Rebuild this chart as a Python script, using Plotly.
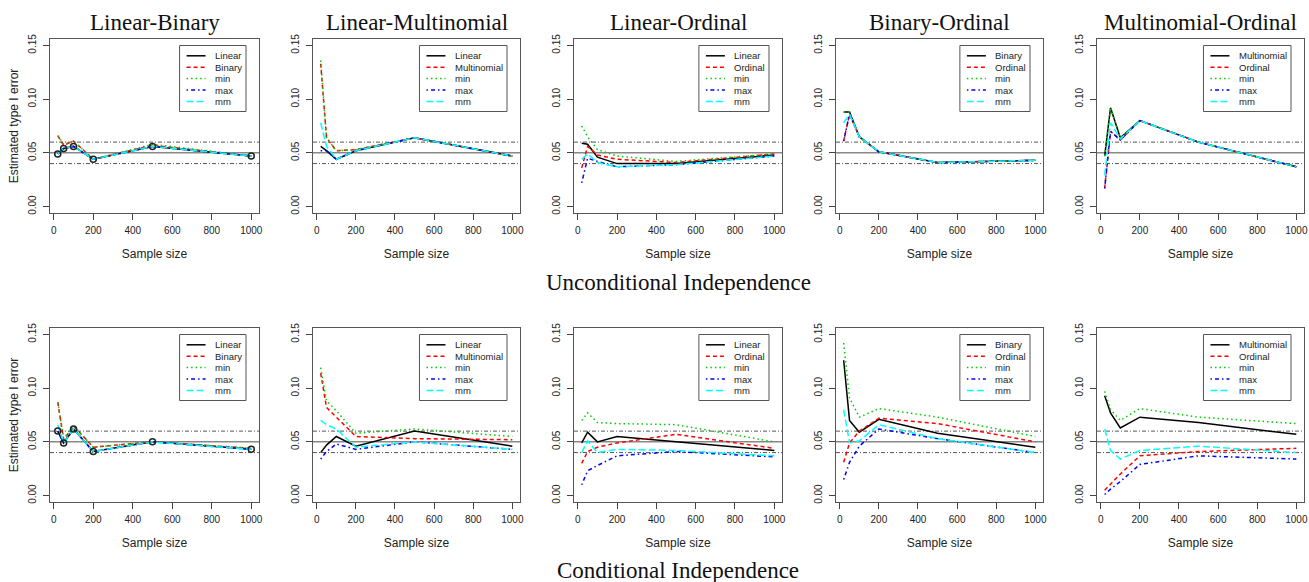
import plotly.graph_objects as go

# ---------------- data ----------------
sample_sizes = [20, 50, 100, 200, 500, 1000]
x_ticks = [0, 200, 400, 600, 800, 1000]
y_ticks = [0.00, 0.05, 0.10, 0.15]

panel_titles = ["Linear-Binary", "Linear-Multinomial", "Linear-Ordinal",
                "Binary-Ordinal", "Multinomial-Ordinal"]
first_names = ["Linear", "Linear", "Linear", "Binary", "Multinomial"]
second_names = ["Binary", "Multinomial", "Ordinal", "Ordinal", "Ordinal"]
row_labels = ["Unconditional Independence", "Conditional Independence"]

# Unconditional independence: [first, second, min, max, mm]
u_lin_bin = [[0.049, 0.054, 0.056, 0.044, 0.056, 0.047],
             [0.066, 0.057, 0.061, 0.044, 0.057, 0.047],
             [0.066, 0.058, 0.061, 0.044, 0.058, 0.047],
             [0.049, 0.054, 0.056, 0.044, 0.056, 0.047],
             [0.049, 0.054, 0.056, 0.044, 0.056, 0.047]]
u_lin_mul = [[0.056, 0.052, 0.044, 0.052, 0.064, 0.047],
             [0.133, 0.064, 0.052, 0.053, 0.064, 0.047],
             [0.136, 0.064, 0.052, 0.053, 0.064, 0.047],
             [0.052, 0.052, 0.044, 0.052, 0.064, 0.047],
             [0.078, 0.056, 0.044, 0.052, 0.064, 0.047]]
u_lin_ord = [[0.059, 0.058, 0.046, 0.040, 0.040, 0.048],
             [0.036, 0.056, 0.048, 0.044, 0.041, 0.049],
             [0.075, 0.065, 0.053, 0.047, 0.042, 0.049],
             [0.022, 0.045, 0.042, 0.037, 0.039, 0.047],
             [0.044, 0.049, 0.041, 0.037, 0.039, 0.047]]
u_bin_ord = [[0.088, 0.088, 0.065, 0.051, 0.041, 0.043],
             [0.061, 0.086, 0.065, 0.051, 0.041, 0.043],
             [0.088, 0.088, 0.065, 0.051, 0.041, 0.043],
             [0.061, 0.086, 0.065, 0.051, 0.041, 0.043],
             [0.078, 0.086, 0.065, 0.051, 0.041, 0.043]]
u_mul_ord = [[0.047, 0.092, 0.064, 0.080, 0.060, 0.037],
             [0.017, 0.070, 0.062, 0.080, 0.060, 0.037],
             [0.047, 0.092, 0.064, 0.080, 0.060, 0.037],
             [0.017, 0.070, 0.062, 0.080, 0.060, 0.037],
             [0.029, 0.078, 0.063, 0.080, 0.060, 0.037]]

# Conditional independence: [first, second, min, max, mm]
c_lin_bin = [[0.060, 0.049, 0.062, 0.041, 0.050, 0.043],
             [0.087, 0.052, 0.065, 0.045, 0.050, 0.044],
             [0.087, 0.053, 0.065, 0.045, 0.050, 0.044],
             [0.060, 0.049, 0.062, 0.041, 0.050, 0.043],
             [0.066, 0.049, 0.062, 0.041, 0.050, 0.043]]
c_lin_mul = [[0.040, 0.047, 0.055, 0.046, 0.060, 0.046],
             [0.114, 0.082, 0.073, 0.055, 0.053, 0.052],
             [0.119, 0.088, 0.079, 0.058, 0.062, 0.055],
             [0.034, 0.041, 0.048, 0.043, 0.050, 0.043],
             [0.070, 0.066, 0.062, 0.045, 0.050, 0.043]]
c_lin_ord = [[0.049, 0.059, 0.050, 0.055, 0.050, 0.042],
             [0.030, 0.041, 0.045, 0.049, 0.057, 0.044],
             [0.070, 0.077, 0.068, 0.067, 0.066, 0.050],
             [0.010, 0.023, 0.028, 0.037, 0.041, 0.036],
             [0.040, 0.051, 0.040, 0.043, 0.042, 0.037]]
c_bin_ord = [[0.126, 0.070, 0.059, 0.071, 0.058, 0.045],
             [0.031, 0.049, 0.060, 0.072, 0.067, 0.050],
             [0.142, 0.091, 0.073, 0.081, 0.073, 0.055],
             [0.015, 0.031, 0.046, 0.062, 0.053, 0.040],
             [0.080, 0.049, 0.051, 0.066, 0.053, 0.040]]
c_mul_ord = [[0.093, 0.077, 0.063, 0.073, 0.068, 0.057],
             [0.005, 0.011, 0.020, 0.037, 0.041, 0.044],
             [0.097, 0.080, 0.070, 0.081, 0.073, 0.067],
             [0.001, 0.006, 0.013, 0.029, 0.037, 0.034],
             [0.062, 0.042, 0.034, 0.042, 0.046, 0.040]]

panels = [u_lin_bin, u_lin_mul, u_lin_ord, u_bin_ord, u_mul_ord,
          c_lin_bin, c_lin_mul, c_lin_ord, c_bin_ord, c_mul_ord]

# ---------------- styles ----------------
W, H = 1309, 582
col_px = [(50, 259), (313, 520), (574, 782), (836, 1043), (1097, 1304)]
row_px = [(39, 213), (328, 502)]
series_colors = ["#000000", "#FF0000", "#00CD00", "#0000FF", "#00FFFF"]
series_dash = ["solid", "4px,3px", "1.5px,3px", "1.5px,3px,4px,3px", "7px,3px"]
SANS = "Liberation Sans, Arial, sans-serif"
SERIF = "Liberation Serif, Times New Roman, serif"
LEG_FONT = 9.5

arial_w = {'M': .833, 'u': .556, 'l': .222, 't': .278, 'i': .222, 'n': .556,
           'o': .556, 'm': .833, 'a': .556, 'L': .556, 'e': .556, 'r': .333,
           'B': .667, 'O': .778, 'd': .556, 'y': .5, 'x': .5}


def text_w(s, size):
    return sum(arial_w.get(ch, .556) for ch in s) * size


fig = go.Figure()
shapes = []
annotations = []
layout_axes = {}

for k, data in enumerate(panels):
    r, c = divmod(k, 5)
    i = k + 1
    xa = "x" if i == 1 else f"x{i}"
    ya = "y" if i == 1 else f"y{i}"
    x0p, x1p = col_px[c]
    y0p, y1p = row_px[r]
    wpx, hpx = x1p - x0p, y1p - y0p

    names = [first_names[c], second_names[c], "min", "max", "mm"]
    for s in range(5):
        fig.add_trace(go.Scatter(
            x=sample_sizes, y=data[s], xaxis=xa, yaxis=ya, mode="lines",
            name=names[s], showlegend=False,
            line=dict(color=series_colors[s], width=1.5, dash=series_dash[s])))
    if c == 0:
        fig.add_trace(go.Scatter(
            x=sample_sizes, y=data[0], xaxis=xa, yaxis=ya, mode="markers",
            showlegend=False, hoverinfo="skip",
            marker=dict(symbol="circle-open", size=6, color="#222",
                        line=dict(width=1.5, color="#222"))))

    axis_font = dict(family=SANS, size=10, color="#222")
    layout_axes["xaxis" if i == 1 else f"xaxis{i}"] = dict(
        domain=[x0p / W, x1p / W], anchor=ya, range=[-19.2, 1039.2],
        tickvals=x_ticks, ticks="outside", ticklen=6, tickcolor="#444",
        ticklabelstandoff=2, showline=True, mirror=True, linecolor="#555",
        linewidth=1, showgrid=False, zeroline=False, tickfont=axis_font,
        automargin=False,
        title=dict(text="Sample size", font=dict(family=SANS, size=12, color="#222"),
                   standoff=14))
    ydict = dict(
        domain=[1 - y1p / H, 1 - y0p / H], anchor=xa, range=[-0.006, 0.156],
        tickvals=y_ticks, tickformat=".2f", tickangle=-90, ticks="outside",
        ticklen=6, tickcolor="#444", ticklabelstandoff=3, showline=True,
        mirror=True, linecolor="#555", linewidth=1, showgrid=False,
        zeroline=False, tickfont=axis_font, automargin=False)
    if c == 0:
        ydict["title"] = dict(text="Estimated type I error",
                              font=dict(family=SANS, size=12, color="#222"),
                              standoff=5)
    layout_axes["yaxis" if i == 1 else f"yaxis{i}"] = ydict

    # reference lines
    xdom = f"{xa} domain"
    shapes.append(dict(type="line", xref=xdom, yref=ya, x0=0, x1=1, y0=0.05, y1=0.05,
                       line=dict(color="#888888", width=1.5), layer="below"))
    for yv in (0.04, 0.06):
        shapes.append(dict(type="line", xref=xdom, yref=ya, x0=0, x1=1, y0=yv, y1=yv,
                           line=dict(color="#555555", width=1, dash="4px,2px,1px,2px"),
                           layer="below"))

    # legend box (R-style, top right)
    ydom = f"{ya} domain"
    tw = max(text_w(n, LEG_FONT) for n in names)
    right = wpx - 13
    left = right - (33.5 + tw + 6)
    top = 6.5
    bottom = top + 66
    shapes.append(dict(type="rect", xref=xdom, yref=ydom,
                       x0=left / wpx, x1=right / wpx,
                       y0=1 - bottom / hpx, y1=1 - top / hpx,
                       line=dict(color="#555", width=1), fillcolor="white",
                       layer="above"))
    for s in range(5):
        yrow = 1 - (top + 10.3 + s * 11.4) / hpx
        shapes.append(dict(type="line", xref=xdom, yref=ydom,
                           x0=(left + 7) / wpx, x1=(left + 26) / wpx,
                           y0=yrow, y1=yrow, layer="above",
                           line=dict(color=series_colors[s], width=1.5,
                                     dash=series_dash[s])))
        annotations.append(dict(xref=xdom, yref=ydom, x=(left + 33.5) / wpx, y=yrow,
                                xanchor="left", yanchor="middle", showarrow=False,
                                text=names[s],
                                font=dict(family=SANS, size=LEG_FONT, color="#222")))

    if r == 0:
        annotations.append(dict(xref="paper", yref="paper",
                                x=(x0p + x1p) / 2 / W, y=1 - 23 / H,
                                xanchor="center", yanchor="middle", showarrow=False,
                                text=panel_titles[c],
                                font=dict(family=SERIF, size=23, color="#111")))

annotations.append(dict(xref="paper", yref="paper", x=678 / W, y=1 - 282 / H,
                        xanchor="center", yanchor="middle", showarrow=False,
                        text=row_labels[0], font=dict(family=SERIF, size=23, color="#111")))
annotations.append(dict(xref="paper", yref="paper", x=678 / W, y=1 - 570 / H,
                        xanchor="center", yanchor="middle", showarrow=False,
                        text=row_labels[1], font=dict(family=SERIF, size=23, color="#111")))

fig.update_layout(
    width=W, height=H, margin=dict(l=0, r=0, t=0, b=0),
    paper_bgcolor="white", plot_bgcolor="white", showlegend=False,
    shapes=shapes, annotations=annotations, **layout_axes)

fig.write_html("out.html",
               config={"displayModeBar": False},
               post_script="document.body.style.margin='0';"
                           "document.body.style.overflow='hidden';")
